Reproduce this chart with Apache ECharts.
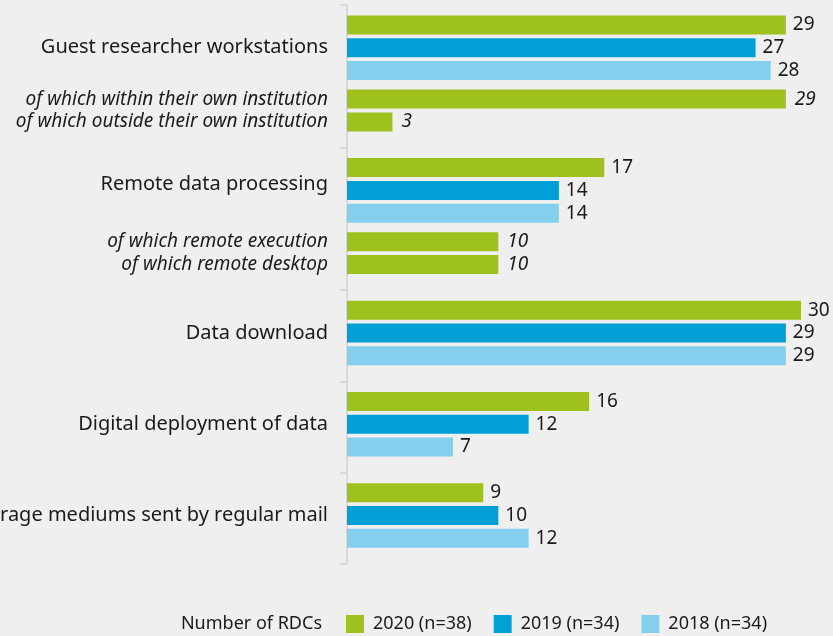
<!DOCTYPE html>
<html>
<head>
<meta charset="utf-8">
<script src="https://cdn.jsdelivr.net/npm/echarts@6/dist/echarts.min.js"></script>
<style>
  html, body { margin: 0; background: #efefef; }
  #chart { width: 833px; height: 636px; }
</style>
</head>
<body>
<div id="chart"></div>
<script>
// main categories and yearly values
const groups = ['Guest researcher workstations', 'Remote data processing', 'Data download',
  'Digital deployment of data', 'Storage mediums sent by regular mail'];
const seriesNames = ['2020 (n=38)', '2019 (n=34)', '2018 (n=34)'];
const v2020 = [29, 17, 30, 16, 9];
const v2019 = [27, 14, 29, 12, 10];
const v2018 = [28, 14, 29, 7, 12];

// "of which" sub rows (2020 only), attached to a main group
const subLabels = ['of which within their own institution', 'of which outside their own institution',
  'of which remote execution', 'of which remote desktop'];
const subValues = [29, 3, 10, 10];
const subParent = [0, 0, 1, 1];

const colors = ['#9fc11d', '#009fd5', '#85cfee'];

// layout: the y axis is cut into thin slots so the gaps can be uneven
const LEAD = 3, ROW = 4, SUB_GAP = 5, GROUP_GAP = 8, TAIL = 4;
const yearVals = [v2020, v2019, v2018];
const bars = {};      // slot -> {s, v, italic}
const labels = {};    // slot -> {text, italic}
const ticks = [0];
let idx = LEAD;
let lastIdx = 0;
groups.forEach((g, gi) => {
  if (gi > 0) {
    idx = lastIdx + GROUP_GAP;
    ticks.push(Math.ceil((lastIdx + idx) / 2 + 0.5));
  }
  const start = idx;
  yearVals.forEach((vals, s) => {
    bars[idx] = { s: s, v: vals[gi], italic: false };
    lastIdx = idx;
    idx += ROW;
  });
  // group label sits at the middle bar, a bit higher when sub rows follow
  const hasSub = subParent.indexOf(gi) >= 0;
  labels[start + ROW - (hasSub && gi > 0 ? 1 : 0)] = { text: g, italic: false };
  let first = true;
  subLabels.forEach((lab, k) => {
    if (subParent[k] !== gi) return;
    idx = lastIdx + (first ? SUB_GAP : ROW);
    first = false;
    bars[idx] = { s: 0, v: subValues[k], italic: true };
    labels[idx] = { text: lab, italic: true };
    lastIdx = idx;
  });
});
const nSlots = lastIdx + 1 + TAIL;
ticks.push(nSlots);

const cats = [];
for (let i = 0; i < nSlots; i++) cats.push(labels[i] ? labels[i].text : '');

const series = seriesNames.map((name, s) => {
  const data = [];
  for (let i = 0; i < nSlots; i++) {
    const b = bars[i];
    if (b && b.s === s) {
      data.push(b.italic
        ? { value: b.v, label: { fontStyle: 'italic', fontSize: 19, distance: 9 } }
        : b.v);
    } else {
      data.push('-');
    }
  }
  return {
    name: name,
    type: 'bar',
    stack: 'rows',
    barWidth: 19,
    itemStyle: { color: colors[s] },
    label: {
      show: true,
      position: 'right',
      distance: 7,
      fontSize: 19,
      color: '#1a1a1a'
    },
    data: data
  };
});

const myChart = echarts.init(document.getElementById('chart'));

const option = {
  backgroundColor: '#efefef',
  animation: false,
  textStyle: { fontFamily: 'Noto Sans' },
  grid: { left: 347, right: 32, top: 5, height: 559, containLabel: false, outerBoundsMode: 'none' },
  legend: {
    data: seriesNames,
    left: 341,
    top: 610,
    icon: 'rect',
    itemWidth: 18,
    itemHeight: 18,
    itemGap: 22,
    textStyle: { fontSize: 18, color: '#1a1a1a', padding: [0, 0, 0, 4] }
  },
  graphic: [{
    type: 'text',
    x: 322,
    y: 624,
    style: {
      text: 'Number of RDCs',
      align: 'right',
      verticalAlign: 'middle',
      fontSize: 18,
      fontFamily: 'Noto Sans',
      fill: '#1a1a1a'
    }
  }],
  xAxis: {
    type: 'value',
    min: 0,
    max: 30,
    show: false
  },
  yAxis: [{
    type: 'category',
    inverse: true,
    data: cats,
    axisLine: { lineStyle: { color: '#d9d9d9', width: 2 } },
    axisTick: { show: false },
    axisLabel: {
      interval: 0,
      margin: 19,
      fontSize: 20,
      color: '#1a1a1a',
      formatter: function (value, index) {
        if (!value) return '';
        return labels[index] && labels[index].italic ? '{i|' + value + '}' : value;
      },
      rich: {
        i: { fontStyle: 'italic', fontSize: 19, color: '#1a1a1a', fontFamily: 'Noto Sans' }
      }
    }
  }, {
    // group separators: ticks on a hidden axis over the same slots
    type: 'value',
    position: 'left',
    inverse: true,
    min: 0,
    max: nSlots,
    axisLine: { show: false },
    axisLabel: { show: false },
    splitLine: { show: false },
    axisTick: {
      show: true,
      length: 7,
      customValues: ticks,
      lineStyle: { color: '#d9d9d9', width: 2 }
    }
  }],
  series: series
};

option && myChart.setOption(option);
</script>
</body>
</html>
